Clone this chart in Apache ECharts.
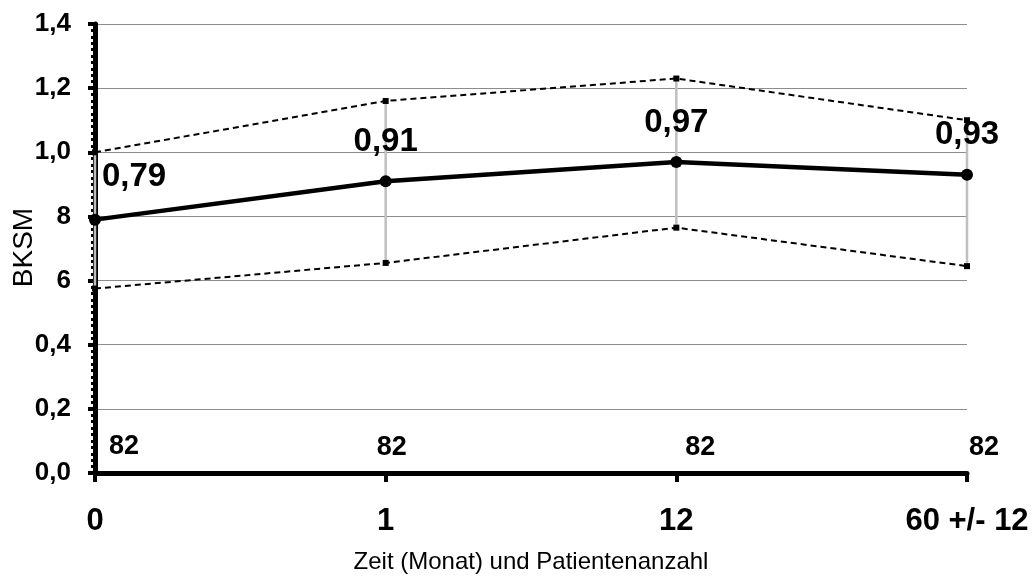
<!DOCTYPE html>
<html>
<head>
<meta charset="utf-8">
<script src="https://cdn.jsdelivr.net/npm/echarts@6/dist/echarts.min.js"></script>
<style>html,body{margin:0;padding:0;background:#fff;}#chart{width:1034px;height:577px;}</style>
</head>
<body>
<div id="chart"></div>
<script>
const categories = ['0', '1', '12', '60 +/- 12'];
const meanValues = [0.79, 0.91, 0.97, 0.93];
const upperValues = [1.00, 1.16, 1.23, 1.10];
const lowerValues = [0.575, 0.655, 0.765, 0.645];
const patientCounts = [82, 82, 82, 82];
const yMin = 0, yMax = 1.4, yStep = 0.2;

const FONT = '"Liberation Sans", Arial, sans-serif';
const countLevel = 0.08;
const countOffsets = [[29, -1], [6, 0], [24, 0], [17, 0]];
const meanLabelOffsets = [[39, -3], [0, 0], [0, 0], [0, 0]];
const fmt = v => v.toFixed(2).replace('.', ',');

const chart = echarts.init(document.getElementById('chart'));
chart.setOption({
  animation: false,
  backgroundColor: '#fff',
  grid: { left: 95, right: 67, top: 24, bottom: 104, containLabel: false, outerBoundsMode: 'none' },
  xAxis: {
    type: 'category',
    data: categories,
    boundaryGap: false,
    axisLine: { lineStyle: { color: '#000', width: 5 } },
    axisTick: { show: true, length: 9, lineStyle: { color: '#000', width: 4 } },
    axisLabel: { color: '#000', fontFamily: FONT, fontWeight: 'bold', fontSize: 31, margin: 33 },
    name: 'Zeit (Monat) und Patientenanzahl',
    nameLocation: 'middle',
    nameGap: 77,
    nameMoveOverlap: false,
    nameTextStyle: { color: '#000', fontFamily: FONT, fontSize: 24 },
    splitLine: { show: false }
  },
  yAxis: [
    {
      type: 'value',
      min: yMin, max: yMax, interval: yStep,
      axisLine: { show: true, lineStyle: { color: '#000', width: 5 } },
      axisTick: { show: true, length: 7, lineStyle: { color: '#000', width: 4 } },
      minorTick: { show: true, splitNumber: 10, length: 4, lineStyle: { color: '#000', width: 3 } },
      axisLabel: {
        color: '#000', fontFamily: FONT, fontWeight: 'bold', fontSize: 26, margin: 24,
        formatter: v => v.toFixed(1).replace('.', ',')
      },
      splitLine: { show: true, lineStyle: { color: '#8c8c8c', width: 1 } }
    },
    {
      type: 'value',
      position: 'left',
      min: yMin, max: yMax, interval: yStep,
      z: 10,
      axisLine: { show: false },
      axisTick: { show: false },
      axisLabel: { show: false },
      splitLine: { show: false },
      name: 'BKSM',
      nameLocation: 'middle',
      nameRotate: 90,
      nameGap: 39,
      nameMoveOverlap: false,
      nameTextStyle: { color: '#000', fontFamily: FONT, fontSize: 28, backgroundColor: '#fff', padding: [4, 10, 18, 12] }
    }
  ],
  series: [
    {
      type: 'custom',
      z: 1,
      renderItem: (params, api) => {
        const x = api.value(0);
        const lo = api.coord([x, api.value(1)]);
        const hi = api.coord([x, api.value(2)]);
        return { type: 'line', shape: { x1: lo[0], y1: lo[1], x2: hi[0], y2: hi[1] }, style: { stroke: '#bfbfbf', lineWidth: 2.5 } };
      },
      data: categories.map((c, i) => [i, lowerValues[i], upperValues[i]])
    },
    {
      type: 'line', z: 2,
      data: upperValues,
      symbol: 'rect', symbolSize: 6, showSymbol: true,
      itemStyle: { color: '#000' },
      lineStyle: { color: '#000', width: 2, type: [6, 4] }
    },
    {
      type: 'line', z: 2,
      data: lowerValues,
      symbol: 'rect', symbolSize: 6, showSymbol: true,
      itemStyle: { color: '#000' },
      lineStyle: { color: '#000', width: 2, type: [6, 4] }
    },
    {
      type: 'line', z: 3,
      data: meanValues.map((v, i) => ({ value: v, label: { offset: meanLabelOffsets[i] } })),
      symbol: 'circle', symbolSize: 12,
      itemStyle: { color: '#000' },
      lineStyle: { color: '#000', width: 4.5 },
      label: {
        show: true, position: 'top', distance: 17,
        color: '#000', fontFamily: FONT, fontWeight: 'bold', fontSize: 33,
        formatter: p => fmt(p.value)
      }
    },
    {
      type: 'scatter', z: 4,
      symbolSize: 1,
      itemStyle: { color: '#000', opacity: 0 },
      data: patientCounts.map((n, i) => ({ value: [i, countLevel], label: { offset: countOffsets[i] } })),
      label: {
        show: true, position: 'inside', opacity: 1,
        color: '#000', fontFamily: FONT, fontWeight: 'bold', fontSize: 27, textBorderWidth: 0,
        formatter: p => String(patientCounts[p.dataIndex])
      }
    }
  ]
});
</script>
</body>
</html>
